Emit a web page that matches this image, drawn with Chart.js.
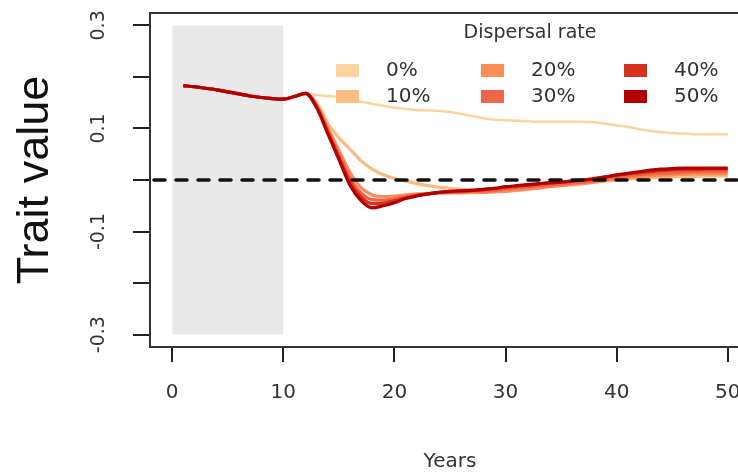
<!DOCTYPE html>
<html>
<head>
<meta charset="utf-8">
<script src="https://cdn.jsdelivr.net/npm/chart.js@4/dist/chart.umd.min.js"></script>
<style>
html, body { margin: 0; padding: 0; background: #fff; overflow: hidden; }
#rahmen { position: relative; width: 738px; height: 476px; overflow: hidden; }
canvas { display: block; }
</style>
</head>
<body>
<div id="rahmen"><canvas id="traitChart" width="780" height="476"></canvas></div>
<script>
// Daten
var jahre = [1,2,3,4,5,6,7,8,9,10,11,12,13,14,15,16,17,18,19,20,21,22,23,24,25,26,27,28,29,30,31,32,33,34,35,36,37,38,39,40,41,42,43,44,45,46,47,48,49,50];
var raten = ['0%', '10%', '20%', '30%', '40%', '50%'];
var farben = ['#fdd49e', '#fdbb84', '#fc8d59', '#ef6548', '#d7301f', '#b30000'];

var rate0 = [0.183,0.181,0.178,0.175,0.171,0.167,0.163,0.160,0.158,0.157,0.162,0.168,0.165,0.163,0.161,0.157,0.152,0.148,0.144,0.140,0.138,0.136,0.135,0.134,0.132,0.128,0.124,0.120,0.117,0.116,0.115,0.114,0.113,0.113,0.113,0.113,0.113,0.112,0.109,0.106,0.103,0.099,0.095,0.093,0.091,0.090,0.089,0.089,0.089,0.089];
var rate10 = [0.183,0.181,0.178,0.175,0.171,0.167,0.163,0.160,0.158,0.157,0.162,0.168,0.150,0.110,0.082,0.060,0.037,0.021,0.010,0.003,-0.002,-0.007,-0.011,-0.014,-0.016,-0.018,-0.019,-0.020,-0.020,-0.019,-0.018,-0.016,-0.014,-0.012,-0.010,-0.008,-0.006,-0.004,-0.002,0.000,0.002,0.003,0.004,0.005,0.006,0.007,0.007,0.008,0.008,0.008];
var rate20 = [0.183,0.181,0.178,0.175,0.171,0.167,0.163,0.160,0.158,0.157,0.162,0.168,0.146,0.102,0.058,0.015,-0.015,-0.029,-0.032,-0.031,-0.029,-0.027,-0.026,-0.025,-0.025,-0.025,-0.024,-0.024,-0.023,-0.022,-0.020,-0.018,-0.016,-0.013,-0.011,-0.009,-0.007,-0.004,-0.001,0.002,0.004,0.006,0.008,0.009,0.010,0.011,0.012,0.012,0.012,0.012];
var rate30 = [0.183,0.181,0.178,0.175,0.171,0.167,0.163,0.160,0.158,0.157,0.162,0.168,0.144,0.097,0.050,0.004,-0.025,-0.038,-0.039,-0.036,-0.032,-0.029,-0.027,-0.025,-0.024,-0.023,-0.022,-0.021,-0.020,-0.018,-0.016,-0.014,-0.012,-0.010,-0.008,-0.006,-0.004,-0.001,0.002,0.005,0.008,0.010,0.012,0.013,0.014,0.015,0.016,0.016,0.016,0.016];
var rate40 = [0.183,0.181,0.178,0.175,0.171,0.167,0.163,0.160,0.158,0.157,0.162,0.168,0.142,0.093,0.044,-0.004,-0.033,-0.046,-0.045,-0.040,-0.035,-0.030,-0.027,-0.024,-0.022,-0.021,-0.020,-0.019,-0.017,-0.014,-0.012,-0.010,-0.008,-0.006,-0.004,-0.002,0.000,0.003,0.006,0.009,0.012,0.014,0.016,0.018,0.019,0.020,0.020,0.021,0.021,0.021];
var rate50 = [0.183,0.181,0.178,0.175,0.171,0.167,0.163,0.160,0.158,0.157,0.162,0.168,0.140,0.090,0.040,-0.010,-0.040,-0.054,-0.050,-0.044,-0.036,-0.031,-0.027,-0.024,-0.022,-0.021,-0.020,-0.018,-0.016,-0.013,-0.011,-0.009,-0.007,-0.005,-0.004,-0.002,0.000,0.002,0.006,0.010,0.013,0.016,0.019,0.021,0.022,0.023,0.023,0.023,0.023,0.023];
var reihen = [rate0, rate10, rate20, rate30, rate40, rate50];

var xTicks = [0, 10, 20, 30, 40, 50];
var yTicks = [-0.3, -0.2, -0.1, 0, 0.1, 0.2, 0.3];
var yTickLabels = ['-0.3', '', '-0.1', '', '0.1', '', '0.3'];
var grauJahre = [0, 10];
var grauWerte = [-0.3, 0.3];
var nullLinie = 0;

var schrift = 'DejaVu Sans';

// grauer Bereich hinter den Linien
var grauPlugin = {
    id: 'grauBereich',
    beforeDatasetsDraw: function(chart) {
        var ctx = chart.ctx, x = chart.scales.x, y = chart.scales.y;
        var x0 = x.getPixelForValue(grauJahre[0]), x1 = x.getPixelForValue(grauJahre[1]);
        var y0 = y.getPixelForValue(grauWerte[1]), y1 = y.getPixelForValue(grauWerte[0]);
        ctx.save();
        ctx.fillStyle = '#e9e9e9';
        ctx.fillRect(x0, y0, x1 - x0, y1 - y0);
        ctx.restore();
    }
};

// gestrichelte Nulllinie
var nullPlugin = {
    id: 'nullLinie',
    afterDatasetsDraw: function(chart) {
        var ctx = chart.ctx, a = chart.chartArea;
        var yp = chart.scales.y.getPixelForValue(nullLinie);
        ctx.save();
        ctx.strokeStyle = '#111';
        ctx.lineWidth = 3.5;
        ctx.lineCap = 'round';
        ctx.setLineDash([11, 11]);
        ctx.beginPath();
        ctx.moveTo(a.left + 4, yp);
        ctx.lineTo(a.right, yp);
        ctx.stroke();
        ctx.restore();
    }
};

// Rahmen und Legende
var rahmenPlugin = {
    id: 'rahmenLegende',
    afterDraw: function(chart) {
        var ctx = chart.ctx, a = chart.chartArea;
        ctx.save();
        ctx.strokeStyle = '#333';
        ctx.lineWidth = 2;
        ctx.strokeRect(a.left, a.top, a.right - a.left, a.bottom - a.top);

        ctx.fillStyle = '#333';
        ctx.font = '19px "' + schrift + '"';
        ctx.textAlign = 'center';
        ctx.textBaseline = 'middle';
        ctx.fillText('Dispersal rate', 530, 33);

        var spalten = [336, 481, 624];
        var zeilen = [70, 96];
        ctx.font = '20px "' + schrift + '"';
        ctx.textAlign = 'left';
        chart.data.datasets.forEach(function(ds, i) {
            var sx = spalten[Math.floor(i / 2)], sy = zeilen[i % 2];
            ctx.fillStyle = ds.borderColor;
            ctx.fillRect(sx, sy - 6, 23, 13);
            ctx.fillStyle = '#333';
            ctx.fillText(ds.label, sx + 50, sy + 1);
        });
        ctx.restore();
    }
};

var datensaetze = raten.map(function(r, i) {
    return {
        label: r,
        data: jahre.map(function(j, k) { return { x: j, y: reihen[i][k] }; }),
        borderColor: farben[i],
        backgroundColor: farben[i],
        borderWidth: i === 0 ? 2.5 : 3.2,
        pointRadius: 0,
        cubicInterpolationMode: 'monotone',
        order: raten.length - i
    };
});

var ctx = document.getElementById('traitChart').getContext('2d');
var traitChart = new Chart(ctx, {
    type: 'line',
    data: { datasets: datensaetze },
    plugins: [grauPlugin, nullPlugin, rahmenPlugin],
    options: {
        responsive: false,
        animation: false,
        layout: { padding: { left: 0, top: 13, right: 30, bottom: 0 } },
        plugins: { legend: { display: false }, tooltip: { enabled: false } },
        scales: {
            x: {
                type: 'linear', min: -2, max: 52,
                afterBuildTicks: function(s) { s.ticks = xTicks.map(function(v) { return { value: v }; }); },
                afterFit: function(s) { s.height = 129; s.paddingLeft = 0; s.paddingRight = 0; },
                grid: { drawOnChartArea: false, drawTicks: true, tickLength: 15, color: '#222', lineWidth: 2 },
                border: { display: true, color: '#333', width: 2 },
                ticks: { color: '#333', font: { family: schrift, size: 20 }, padding: 19, maxRotation: 0, autoSkip: false },
                title: { display: true, text: 'Years', color: '#333', font: { family: schrift, size: 20 }, padding: { top: 0, bottom: 2 } }
            },
            y: {
                type: 'linear', min: -0.324, max: 0.324,
                afterBuildTicks: function(s) { s.ticks = yTicks.map(function(v) { return { value: v }; }); },
                afterFit: function(s) { s.width = 150; s.paddingTop = 0; s.paddingBottom = 0; },
                grid: { drawOnChartArea: false, drawTicks: true, tickLength: 17, color: '#222', lineWidth: 2 },
                border: { display: true, color: '#333', width: 2 },
                ticks: {
                    color: '#333', font: { family: schrift, size: 19 }, padding: 15,
                    minRotation: 90, maxRotation: 90, crossAlign: 'center', autoSkip: false,
                    callback: function(v, i) { return yTickLabels[i]; }
                },
                title: { display: true, text: 'Trait value', color: '#111', font: { family: 'Liberation Sans', size: 45 }, padding: { top: 9, bottom: 0 } }
            }
        }
    }
});
</script>
</body>
</html>
